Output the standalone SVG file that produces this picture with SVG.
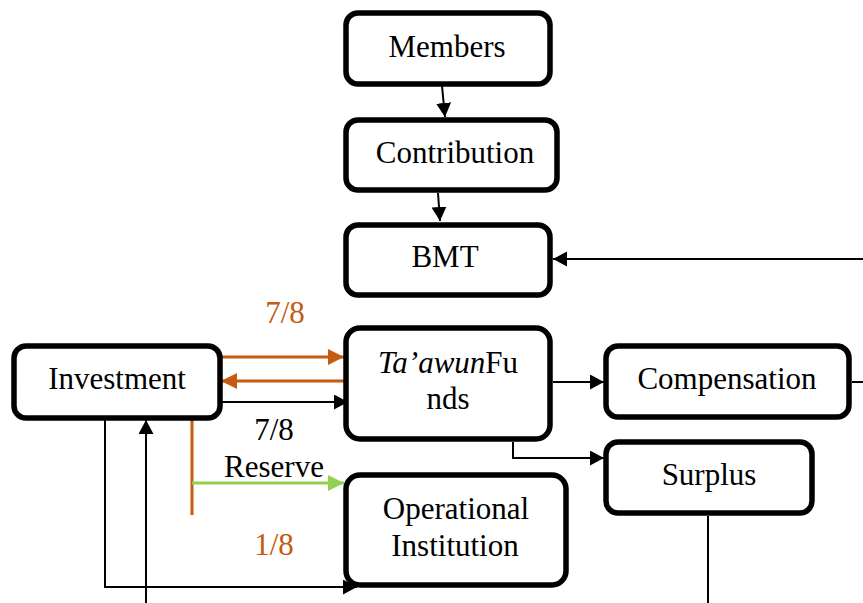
<svg xmlns="http://www.w3.org/2000/svg" width="863" height="603" viewBox="0 0 863 603">
<style>
.box{fill:#fff;stroke:#000;stroke-width:5.5}
.t{font-family:'Liberation Serif','DejaVu Serif',serif;font-size:31px;fill:#000;text-anchor:middle}
.or{fill:#C55A11}
.k{stroke:#000;stroke-width:2;fill:none}
.ko{stroke:#C55A11;stroke-width:3;fill:none}
.kg{stroke:#92D050;stroke-width:3;fill:none}
</style>
<defs>
<marker id="ab" markerUnits="userSpaceOnUse" markerWidth="16" markerHeight="16" refX="14" refY="7.5" orient="auto"><path d="M0,0 L14,7.5 L0,15 Z" fill="#000"/></marker>
<marker id="ao" markerUnits="userSpaceOnUse" markerWidth="18" markerHeight="17" refX="16" refY="8" orient="auto"><path d="M0,0 L16,8 L0,16 Z" fill="#C55A11"/></marker>
<marker id="ag" markerUnits="userSpaceOnUse" markerWidth="18" markerHeight="17" refX="16" refY="8" orient="auto"><path d="M0,0 L16,8 L0,16 Z" fill="#92D050"/></marker>
</defs>
<rect width="863" height="603" fill="#fff"/>
<g id="connectors">
<path class="k" d="M442,86 L445,117" marker-end="url(#ab)"/>
<path class="k" d="M438,193 L440,221" marker-end="url(#ab)"/>
<path class="k" d="M444,264 L444,294" marker-end="url(#ab)"/>
<path class="k" d="M863,259 L553,259" marker-end="url(#ab)"/>
<path class="ko" d="M220,357 L344,357" marker-end="url(#ao)"/>
<path class="ko" d="M344,381 L221,381" marker-end="url(#ao)"/>
<path class="k" d="M222,402 L348,402" marker-end="url(#ab)"/>
<path class="ko" d="M192,420 L192,515"/>
<path class="kg" d="M192,483 L344,483" marker-end="url(#ag)"/>
<path class="k" d="M105,420 L105,587 L357,587" marker-end="url(#ab)"/>
<path class="k" d="M146,603 L146,420" marker-end="url(#ab)"/>
<path class="k" d="M553,382 L604,382" marker-end="url(#ab)"/>
<path class="k" d="M852,382 L863,382"/>
<path class="k" d="M513,442 L513,458 L604,458" marker-end="url(#ab)"/>
<path class="k" d="M708,516 L708,603"/>
<text class="t or" x="285" y="323">7/8</text>
<text class="t" x="274" y="440">7/8</text>
<text class="t" x="274" y="477">Reserve</text>
<text class="t or" x="274" y="555">1/8</text>
</g>
<g id="members"><rect class="box" x="346" y="13" width="204" height="71" rx="12"/><text class="t" x="447" y="57">Members</text></g>
<g id="contribution"><rect class="box" x="346" y="120" width="211" height="70" rx="12"/><text class="t" x="455" y="163">Contribution</text></g>
<g id="bmt"><rect class="box" x="346" y="225" width="204" height="70" rx="12"/><text class="t" x="445" y="267">BMT</text></g>
<g id="taawun"><rect class="box" x="346" y="328" width="204" height="111" rx="14"/><text class="t" x="448" y="373"><tspan font-style="italic">Ta’awun</tspan>Fu</text><text class="t" x="448" y="409">nds</text></g>
<g id="investment"><rect class="box" x="14" y="346" width="206" height="72" rx="12"/><text class="t" x="117" y="389">Investment</text></g>
<g id="compensation"><rect class="box" x="606" y="346" width="243" height="71" rx="12"/><text class="t" x="727" y="389">Compensation</text></g>
<g id="surplus"><rect class="box" x="606" y="442" width="206" height="71" rx="12"/><text class="t" x="709" y="485">Surplus</text></g>
<g id="operational"><rect class="box" x="346" y="475" width="220" height="110" rx="14"/><text class="t" x="456" y="519">Operational</text><text class="t" x="455" y="556">Institution</text></g>
</svg>
